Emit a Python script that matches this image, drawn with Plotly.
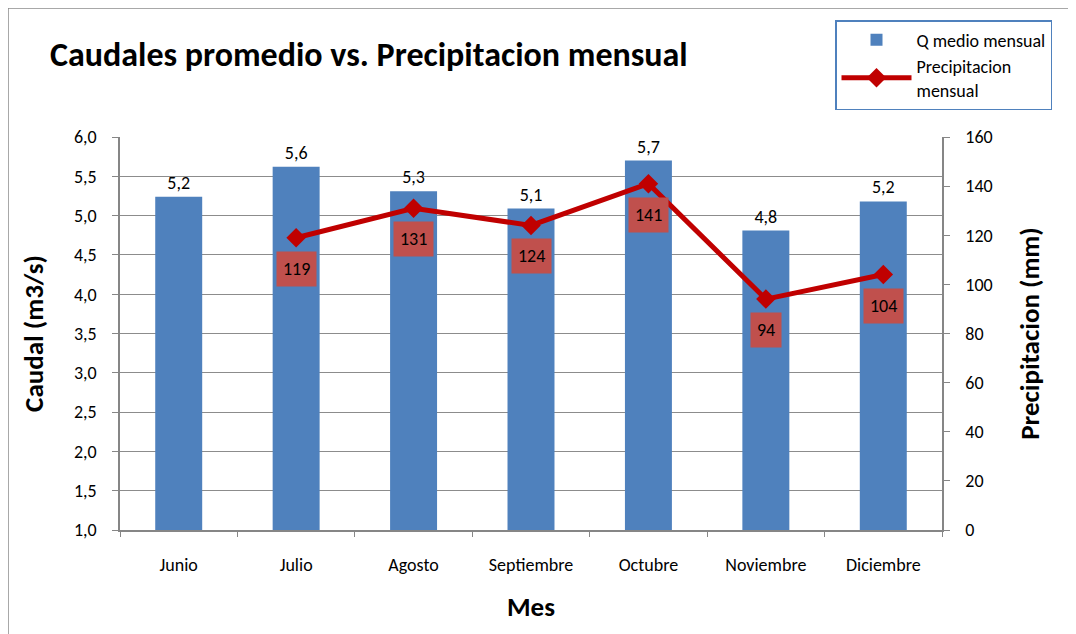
import plotly.graph_objects as go

meses = ["Junio", "Julio", "Agosto", "Septiembre", "Octubre", "Noviembre", "Diciembre"]
caudal = [5.24, 5.62, 5.31, 5.09, 5.70, 4.81, 5.18]
precip = [None, 119, 131, 124, 141, 94, 104]

FONT = "Carlito, Calibri, Lato, sans-serif"
W, H = 1076, 634
OFF = 8  # page body margin
# target plot area in window pixels: x 120..942, y 137..530
ML = 120 - OFF
MT = 137 - OFF
PW = 942 - 120
PH = 530 - 137
MR = W - ML - PW
MB = H - MT - PH


def px_x(p):
    return (p - OFF - ML) / PW


def px_y(p):
    return (MT + PH - (p - OFF)) / PH


fig = go.Figure()
fig.add_trace(go.Bar(
    x=meses, y=caudal, name="Q medio mensual",
    marker=dict(color="#4F81BD", line=dict(width=0)),
    width=0.4,
    texttemplate="%{y:.1f}", textposition="outside",
    textfont=dict(family=FONT, size=18, color="#000"),
    cliponaxis=False,
))
fig.add_trace(go.Scatter(
    x=meses, y=precip, name="Precipitacion<br>mensual", yaxis="y2",
    mode="lines+markers",
    line=dict(color="#C00000", width=5),
    marker=dict(symbol="diamond", size=15, color="#C00000"),
    connectgaps=False,
))

for m, v in zip(meses, precip):
    if v is None:
        continue
    fig.add_annotation(
        x=m, y=v, xref="x", yref="y2", yshift=-31,
        text=str(v), showarrow=False,
        bgcolor="#C0504D", borderpad=6,
        font=dict(family=FONT, size=18, color="#000"),
    )

fig.add_shape(type="rect", xref="paper", yref="paper",
              x0=px_x(8), x1=px_x(1090), y0=px_y(8), y1=px_y(650),
              line=dict(color="#8C8C8C", width=1.5), layer="below")

fig.update_layout(
    width=W, height=H,
    margin=dict(l=ML, r=MR, t=MT, b=MB),
    paper_bgcolor="white", plot_bgcolor="white",
    separators=",.",
    font=dict(family=FONT, size=18, color="#000"),
    title=dict(text="<b>Caudales promedio vs. Precipitacion mensual</b>",
               x=(50 - OFF) / W, xanchor="left", y=1 - (54 - OFF) / H, yanchor="middle",
               font=dict(family=FONT, size=34, color="#000")),
    showlegend=True,
    legend=dict(x=px_x(835), y=px_y(20), xanchor="left", yanchor="top",
                bordercolor="#4F81BD", borderwidth=1.5, bgcolor="white",
                font=dict(family=FONT, size=18, color="#000"),
                tracegroupgap=4, itemwidth=70),
    xaxis=dict(
        showline=True, linecolor="#868686", linewidth=1.5,
        ticks="outside", ticklen=5, tickcolor="#868686", tickson="boundaries",
        ticklabelstandoff=18,
        tickfont=dict(family=FONT, size=18, color="#000"),
        title=dict(text="<b>Mes</b>", font=dict(family=FONT, size=27, color="#000"), standoff=22),
        showgrid=False,
    ),
    yaxis=dict(
        range=[1, 6], dtick=0.5, tickformat=".1f",
        showline=True, linecolor="#868686", linewidth=1.5,
        ticks="outside", ticklen=6, tickcolor="#868686",
        ticklabelstandoff=12,
        showgrid=True, gridcolor="#8C8C8C", gridwidth=1,
        zeroline=False,
        tickfont=dict(family=FONT, size=18, color="#000"),
        title=dict(text="<b>Caudal (m3/s)</b>", font=dict(family=FONT, size=27, color="#000"), standoff=22),
    ),
    yaxis2=dict(
        range=[0, 160], dtick=20, overlaying="y", side="right",
        showline=True, linecolor="#868686", linewidth=1.5,
        ticks="outside", ticklen=6, tickcolor="#868686",
        ticklabelstandoff=12,
        showgrid=False, zeroline=False,
        tickfont=dict(family=FONT, size=18, color="#000"),
        title=dict(text="<b>Precipitacion (mm)</b>", font=dict(family=FONT, size=27, color="#000"), standoff=28),
    ),
)

fig.write_html("out.html")
